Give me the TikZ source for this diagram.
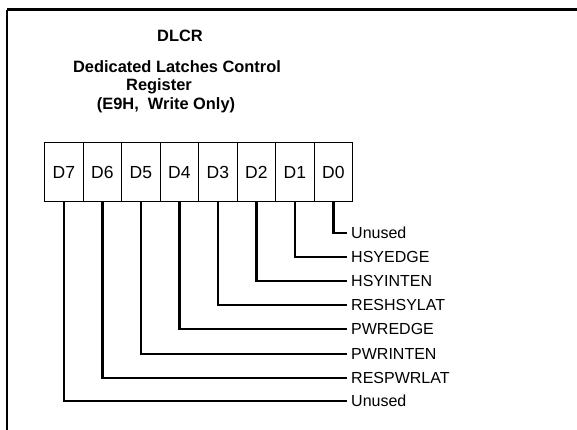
\documentclass[tikz,border=0pt]{standalone}
\usepackage{fontspec}
\setmainfont{Liberation Sans}
\begin{document}
\begin{tikzpicture}[x=1pt,y=-1pt,
  cell/.style={draw, line width=1.2pt, minimum width=38.5pt, minimum height=59pt, inner sep=0pt, anchor=north west, font=\fontsize{17.5}{20}\selectfont},
  lbl/.style={anchor=west, inner sep=0pt, font=\fontsize{16}{19}\selectfont},
  ttl/.style={inner sep=0pt, font=\fontsize{16.4}{19}\selectfont\bfseries},
  wire/.style={line width=2.6pt, line cap=rect}]
\useasboundingbox (0,0) rectangle (577,430);
% frame
\draw[line width=3pt] (7,10) -- (580,10);
\draw[line width=1.4pt] (7,10) -- (7,433);
% titles
\node[ttl] (t1) at (180,36) {DLCR};
\node[ttl] (t2) at (177,67) {Dedicated Latches Control};
\node[ttl] (t3) at (159,86) {Register};
\node[ttl] (t4) at (166,105) {(E9H,\ \ Write Only)};
% register cells
\foreach \i/\d in {0/7,1/6,2/5,3/4,4/3,5/2,6/1,7/0}{
  \node[cell] (c\d) at ({44+38.5*\i},142) {D\d};
}
% labels
\foreach \d/\t/\yy in {0/Unused/233, 1/HSYEDGE/257, 2/HSYINTEN/281, 3/RESHSYLAT/305, 4/PWREDGE/329, 5/PWRINTEN/354, 6/RESPWRLAT/378, 7/Unused/401}{
  \node[lbl] (l\d) at (351,\yy) {\t};
  \coordinate (e\d) at (346,\yy);
  \draw[wire] (c\d.south) |- (e\d);
}
\end{tikzpicture}
\end{document}
